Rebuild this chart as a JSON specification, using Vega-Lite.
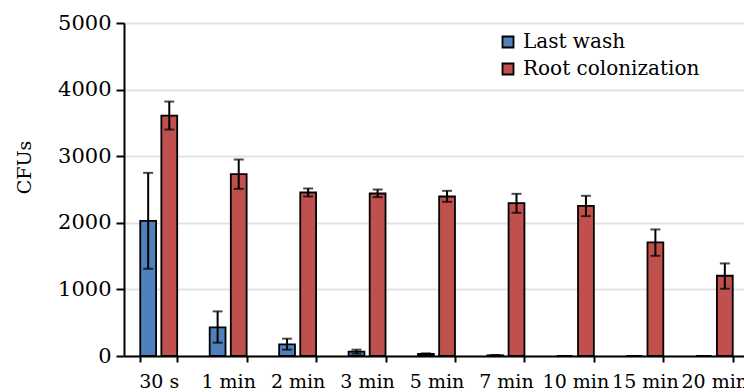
{
  "$schema": "https://vega.github.io/schema/vega-lite/v6.json",
  "width": 625,
  "height": 333,
  "autosize": {"type": "none"},
  "padding": {"left": 124, "top": 23, "right": -5, "bottom": 36},
  "background": "white",
  "config": {
    "view": {"stroke": null},
    "font": "DejaVu Serif"
  },
  "data": {
    "values": [
      {"time": "30 s", "series": "Last wash", "value": 2030, "lo": 1310, "hi": 2750},
      {"time": "30 s", "series": "Root colonization", "value": 3610, "lo": 3400, "hi": 3820},
      {"time": "1 min", "series": "Last wash", "value": 430, "lo": 200, "hi": 670},
      {"time": "1 min", "series": "Root colonization", "value": 2730, "lo": 2510, "hi": 2950},
      {"time": "2 min", "series": "Last wash", "value": 175, "lo": 95, "hi": 260},
      {"time": "2 min", "series": "Root colonization", "value": 2455, "lo": 2395, "hi": 2515},
      {"time": "3 min", "series": "Last wash", "value": 65, "lo": 35, "hi": 95},
      {"time": "3 min", "series": "Root colonization", "value": 2440, "lo": 2385, "hi": 2500},
      {"time": "5 min", "series": "Last wash", "value": 30, "lo": 20, "hi": 40},
      {"time": "5 min", "series": "Root colonization", "value": 2395, "lo": 2315, "hi": 2480},
      {"time": "7 min", "series": "Last wash", "value": 10, "lo": 5, "hi": 15},
      {"time": "7 min", "series": "Root colonization", "value": 2295, "lo": 2150, "hi": 2435},
      {"time": "10 min", "series": "Last wash", "value": 0, "lo": null, "hi": null},
      {"time": "10 min", "series": "Root colonization", "value": 2255, "lo": 2100, "hi": 2405},
      {"time": "15 min", "series": "Last wash", "value": 0, "lo": null, "hi": null},
      {"time": "15 min", "series": "Root colonization", "value": 1705, "lo": 1505, "hi": 1900},
      {"time": "20 min", "series": "Last wash", "value": 0, "lo": null, "hi": null},
      {"time": "20 min", "series": "Root colonization", "value": 1205, "lo": 1010, "hi": 1390}
    ]
  },
  "encoding": {
    "x": {
      "field": "time",
      "type": "nominal",
      "sort": null,
      "scale": {"paddingInner": 0.468, "paddingOuter": 0.234},
      "axis": {
        "title": null,
        "labelAngle": 0,
        "labelFont": "DejaVu Serif",
        "labelFontSize": 19,
        "labelColor": "black",
        "labelPadding": 10,
        "labelOverlap": false,
        "labelBound": false,
        "tickBand": "extent",
        "tickSize": 6,
        "tickWidth": 2,
        "tickColor": "black",
        "domainColor": "black",
        "domainWidth": 2,
        "grid": false
      }
    },
    "xOffset": {
      "field": "series",
      "type": "nominal",
      "sort": ["Last wash", "Root colonization"],
      "scale": {"paddingInner": 0.25}
    }
  },
  "layer": [
    {
      "mark": {"type": "bar", "stroke": "black", "strokeWidth": 1.8},
      "encoding": {
        "y": {
          "field": "value",
          "type": "quantitative",
          "scale": {"domain": [0, 5000], "nice": false},
          "axis": {
            "values": [0, 1000, 2000, 3000, 4000, 5000],
            "format": "d",
            "title": "CFUs",
            "titleFont": "DejaVu Serif",
            "titleFontSize": 19,
            "titleFontWeight": "normal",
            "titleColor": "black",
            "titleX": -90,
            "titleY": 144,
            "labelFont": "DejaVu Serif",
            "labelFontSize": 21,
            "labelColor": "black",
            "labelPadding": 5,
            "tickSize": 8,
            "tickWidth": 2,
            "tickColor": "black",
            "domainColor": "black",
            "domainWidth": 2,
            "grid": true,
            "gridColor": "#e3e3e3",
            "gridWidth": 2
          }
        },
        "color": {
          "field": "series",
          "type": "nominal",
          "scale": {"domain": ["Last wash", "Root colonization"], "range": ["#4F81BD", "#C0504D"]},
          "legend": {
            "title": null,
            "orient": "none",
            "legendX": 374,
            "legendY": 9,
            "symbolType": "square",
            "symbolSize": 121,
            "symbolStrokeColor": "black",
            "symbolStrokeWidth": 1.8,
            "labelFont": "DejaVu Serif",
            "labelFontSize": 20,
            "labelColor": "black",
            "labelOffset": 5,
            "labelLimit": 0,
            "rowPadding": 7
          }
        }
      }
    },
    {
      "mark": {"type": "rule", "color": "black", "strokeWidth": 2},
      "encoding": {
        "y": {"field": "lo", "type": "quantitative"},
        "y2": {"field": "hi"}
      }
    },
    {
      "mark": {"type": "tick", "color": "black", "thickness": 2, "size": 10, "orient": "horizontal"},
      "encoding": {"y": {"field": "lo", "type": "quantitative"}}
    },
    {
      "mark": {"type": "tick", "color": "black", "thickness": 2, "size": 10, "orient": "horizontal"},
      "encoding": {"y": {"field": "hi", "type": "quantitative"}}
    }
  ]
}
